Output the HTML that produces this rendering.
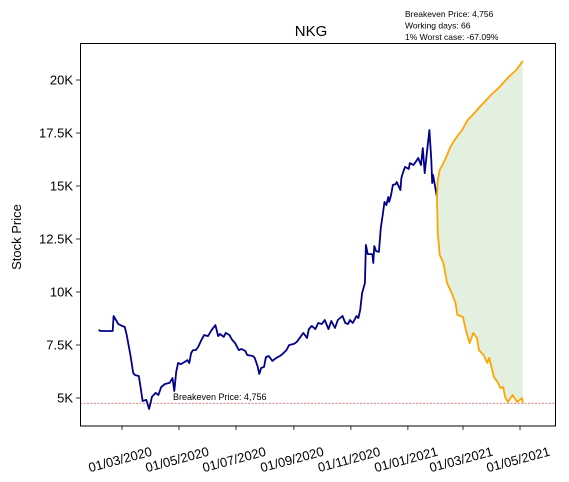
<!DOCTYPE html>
<html><head><meta charset="utf-8"><style>
body{margin:0;background:#fff}
svg{display:block;font-family:"Liberation Sans","DejaVu Sans",sans-serif}
</style></head><body>
<svg id="chart" width="569" height="482">
<g id="plot"></g>
</svg>
<script>
const xTickDays=[60,121,182,244,305,366,425,486];
const xTickLabels=["01/03/2020","01/05/2020","01/07/2020","01/09/2020","01/11/2020","01/01/2021","01/03/2021","01/05/2021"];
const yTicks=[5,7.5,10,12.5,15,17.5,20];
const yTickLabels=["5K","7.5K","10K","12.5K","15K","17.5K","20K"];
const histDays=[35,37,40,43,50,51,56,60,63,65,69,72,74,78,80,82,86,89,92,96,99,102,106,111,114,116,118,120,123,127,130,132,134,136,139,142,145,148,152,156,160,163,165,169,171,175,178,181,185,188,192,194,200,202,205,207,209,212,214,217,221,225,229,232,236,239,244,247,251,254,258,260,263,267,270,274,277,281,284,288,291,296,299,302,304,307,311,313,315,317,320,321,323,328,329,330,332,335,337,339,341,343,345,346,348,350,353,354,358,359,361,363,367,368,372,375,377,380,382,384,387,389,391,392,393,397];
const histPrice=[8.21,8.16,8.16,8.16,8.16,8.87,8.49,8.40,8.35,7.97,7.03,6.18,6.08,6.04,5.47,4.86,4.91,4.48,5.05,5.24,5.14,5.52,5.66,5.71,5.94,5.33,6.23,6.65,6.60,6.70,6.79,6.65,7.12,7.26,7.26,7.45,7.74,7.97,7.92,8.21,8.44,7.92,8.02,7.88,8.07,7.97,7.74,7.59,7.26,7.31,7.22,7.03,6.98,6.89,6.51,6.13,6.42,6.46,6.93,6.98,6.75,6.89,6.98,7.08,7.26,7.50,7.55,7.64,7.88,8.07,7.83,8.25,8.40,8.25,8.54,8.49,8.68,8.25,8.63,8.30,8.68,8.87,8.54,8.49,8.68,8.54,8.87,8.77,9.15,9.95,10.42,12.22,11.79,11.79,11.37,12.17,11.93,11.89,13.02,13.63,14.25,14.10,14.48,14.25,14.58,15.05,15.09,15.19,14.81,15.38,15.66,15.90,15.80,16.08,15.99,16.18,16.32,15.99,16.79,15.61,16.84,17.64,16.23,15.14,15.52,14.48];
const upDays=[397,398,400,404,408,411,414,420,424,430,437,443,450,456,463,469,475,482,486,489];
const upPrice=[14.48,15.28,15.75,16.08,16.46,16.79,17.03,17.41,17.64,18.11,18.44,18.73,19.06,19.34,19.62,19.91,20.19,20.47,20.71,20.90];
const loDays=[397,398,400,404,408,413,417,419,425,428,432,436,440,442,447,451,453,458,462,465,468,470,473,478,483,488,489];
const loPrice=[14.48,12.78,11.75,11.37,10.42,9.95,9.48,8.92,8.82,8.21,7.59,8.07,7.83,7.26,7.03,6.65,6.89,5.99,5.75,5.47,5.52,5.05,4.81,5.14,4.81,5.00,4.76];
const breakeven=4.756;

const X=d=>122+(d-60)*0.9343;
const Y=v=>398-(v-5)*21.2;
const NS="http://www.w3.org/2000/svg";
const g=document.getElementById('plot');
function mk(t,a,parent){const e=document.createElementNS(NS,t);for(const k in a)e.setAttribute(k,a[k]);(parent||g).appendChild(e);return e;}
function pts(ds,vs){return ds.map((d,i)=>X(d).toFixed(1)+","+Y(vs[i]).toFixed(1)).join(" ");}

const fillPts=pts(upDays,upPrice)+" "+pts(loDays.slice().reverse(),loPrice.slice().reverse());
let e=mk('polygon',{points:fillPts,fill:'#e3f0e0',stroke:'none'});


e=mk('line',{x1:80,x2:556,y1:Y(breakeven),y2:Y(breakeven),stroke:'#d62728','stroke-width':0.7,'stroke-dasharray':'2,1.5'});


e=mk('text',{x:173,y:Y(breakeven)-3,'font-size':9,fill:'#000'});e.textContent="Breakeven Price: 4,756";


e=mk('polyline',{points:pts(histDays,histPrice),fill:'none',stroke:'#00008b','stroke-width':1.8,'stroke-linejoin':'round'});


e=mk('polyline',{points:pts(upDays,upPrice),fill:'none',stroke:'#ffa500','stroke-width':1.8,'stroke-linejoin':'round'});


e=mk('polyline',{points:pts(loDays,loPrice),fill:'none',stroke:'#ffa500','stroke-width':1.8,'stroke-linejoin':'round'});


e=mk('rect',{x:80.5,y:43.5,width:475,height:382.5,fill:'none',stroke:'#000','stroke-width':1});


yTicks.forEach((v,i)=>{
  mk('line',{x1:76,x2:80,y1:Y(v),y2:Y(v),stroke:'#000','stroke-width':0.8});
  const t=mk('text',{x:73,y:Y(v)+4.5,'font-size':13,'text-anchor':'end'});t.textContent=yTickLabels[i];
  
  
});
xTickDays.forEach((d,i)=>{
  mk('line',{x1:X(d),x2:X(d),y1:426,y2:430,stroke:'#000','stroke-width':0.8});
  const cx=X(d)-2;
  const t=mk('text',{x:cx,y:464,'font-size':13,'text-anchor':'middle',transform:`rotate(-15 ${cx} 459)`});t.textContent=xTickLabels[i];
  
  
});
e=mk('text',{x:311,y:36,'font-size':15,'text-anchor':'middle'});e.textContent="NKG";


e=mk('text',{x:21,y:237,'font-size':13,'text-anchor':'middle',transform:'rotate(-90 21 237)'});e.textContent="Stock Price";


["Breakeven Price: 4,756","Working days: 66","1% Worst case: -67.09%"].forEach((s,i)=>{
  const t=mk('text',{x:405,y:17+i*11.5,'font-size':8.5});t.textContent=s;
  
  
});
</script>
</body></html>
